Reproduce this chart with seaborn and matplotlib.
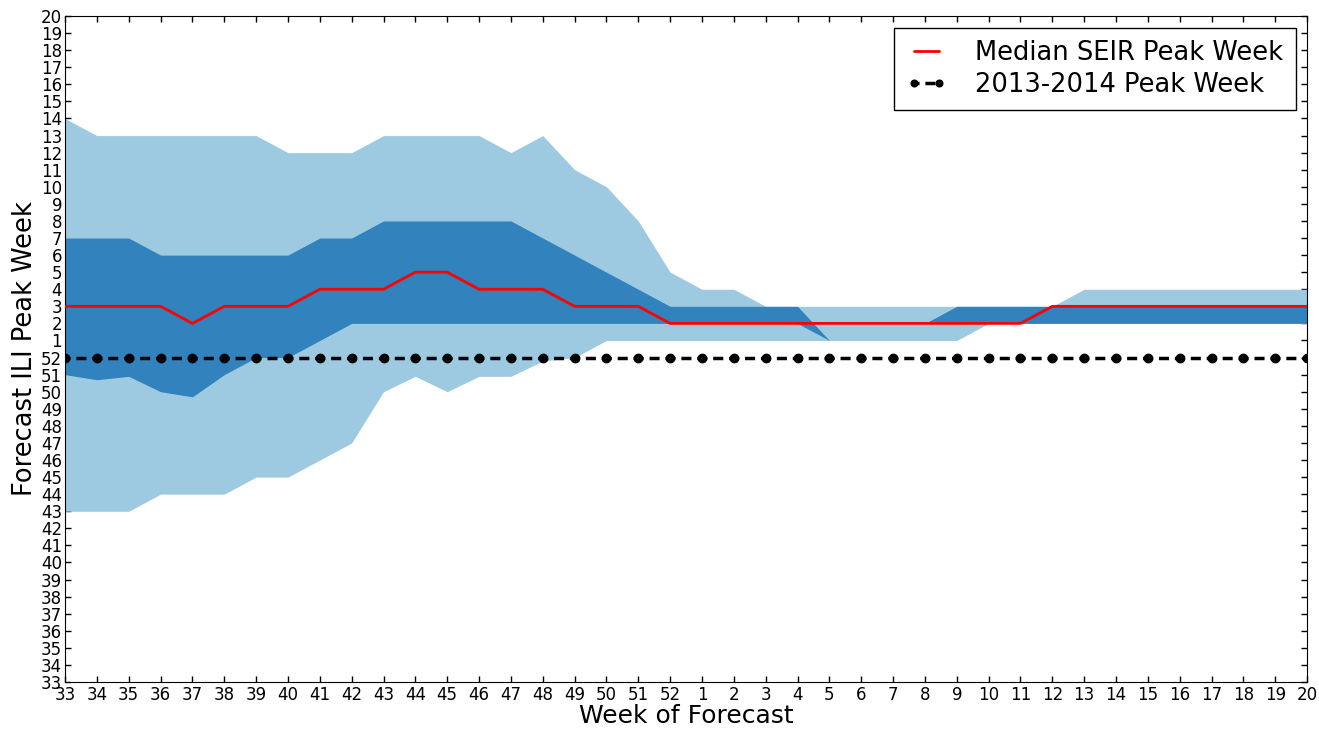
import matplotlib
matplotlib.use("Agg")
import matplotlib.pyplot as plt
import seaborn as sns
import pandas as pd

# Forecast weeks of the 2013-2014 season (week 33 through week 20 of the next year)
weeks = list(range(33, 53)) + list(range(1, 21))

# Median forecast of the peak week
median_peak = [3, 3, 3, 3, 2, 3, 3, 3, 4, 4, 4, 5, 5, 4, 4, 4, 3, 3, 3, 2,
               2, 2, 2, 2, 2, 2, 2, 2, 2, 2, 2, 3, 3, 3, 3, 3, 3, 3, 3, 3]

# Inner interval (dark band)
inner_hi = [7, 7, 7, 6, 6, 6, 6, 6, 7, 7, 8, 8, 8, 8, 8, 7, 6, 5, 4, 3,
            3, 3, 3, 3, 1, 2, 2, 2, 3, 3, 3, 3, 3, 3, 3, 3, 3, 3, 3, 3]
inner_lo = [51, 50.7, 50.9, 50, 49.7, 51, 52, 52, 1, 2, 2, 2, 2, 2, 2, 2, 2, 2, 2, 2,
            2, 2, 2, 2, 1, 2, 2, 2, 2, 2, 2, 2, 2, 2, 2, 2, 2, 2, 2, 2]

# Outer interval (light band)
outer_hi = [14, 13, 13, 13, 13, 13, 13, 12, 12, 12, 13, 13, 13, 13, 12, 13, 11, 10, 8, 5,
            4, 4, 3, 3, 3, 3, 3, 3, 3, 3, 3, 3, 4, 4, 4, 4, 4, 4, 4, 4]
outer_lo = [43, 43, 43, 44, 44, 44, 45, 45, 46, 47, 50, 50.9, 50, 50.9, 50.9, 51.8, 52, 1, 1, 1,
            1, 1, 1, 1, 1, 1, 1, 1, 1, 2, 2, 2, 2, 2, 2, 2, 2, 2, 2, 2]

# Observed peak week of the 2013-2014 season
observed_peak = 52


def season_pos(week):
    """Position of a week number on the season axis (week 33 -> 0, week 20 -> 39)."""
    return week - 33 if week > 20.5 else week + 19


x = list(range(len(weeks)))
df = pd.DataFrame({
    "x": x,
    "median": [season_pos(w) for w in median_peak],
    "inner_hi": [season_pos(w) for w in inner_hi],
    "inner_lo": [season_pos(w) for w in inner_lo],
    "outer_hi": [season_pos(w) for w in outer_hi],
    "outer_lo": [season_pos(w) for w in outer_lo],
    "observed": [season_pos(observed_peak)] * len(weeks),
})

sns.set_style("white", {
    "xtick.direction": "in", "ytick.direction": "in",
    "xtick.top": True, "ytick.right": True,
    "xtick.bottom": True, "ytick.left": True,
    "axes.edgecolor": "black", "axes.linewidth": 1.0,
    "text.color": "black", "axes.labelcolor": "black",
    "xtick.color": "black", "ytick.color": "black",
})
plt.rcParams["font.family"] = ["DejaVu Sans"]

fig = plt.figure(figsize=(13.19, 7.32), dpi=100)
ax = fig.add_axes([0.0493, 0.0683, 0.9417, 0.9098])

light_blue = "#9ecae1"
dark_blue = "#3182bd"

ax.fill_between(df["x"], df["outer_lo"], df["outer_hi"], color=light_blue, lw=0, zorder=1)
ax.fill_between(df["x"], df["inner_lo"], df["inner_hi"], color=dark_blue, lw=0, zorder=2)

sns.lineplot(data=df, x="x", y="median", color="red", lw=2.0, ax=ax,
             label="Median SEIR Peak Week", zorder=4)
sns.lineplot(data=df, x="x", y="observed", color="black", lw=2.5,
             linestyle=(1.45, (2.9, 1.685)),
             marker="o", markersize=6.3, markeredgecolor="black", ax=ax,
             label="2013-2014 Peak Week", zorder=5)

ax.set_xlim(0, len(weeks) - 1)
ax.set_ylim(0, len(weeks) - 1)
ax.set_xticks(x)
ax.set_xticklabels([str(w) for w in weeks], fontsize=12)
ax.set_yticks(x)
ax.set_yticklabels([str(w) for w in weeks], fontsize=12)
ax.tick_params(axis="both", which="major", length=4, width=1, color="black", pad=2)
ax.tick_params(axis="x", which="major", pad=3)

ax.set_xlabel("Week of Forecast", fontsize=18, labelpad=0)
ax.set_ylabel("Forecast ILI Peak Week", fontsize=18.5, labelpad=2)

leg = ax.legend(loc="upper right", fontsize=18.5, numpoints=2, frameon=True,
                fancybox=False, framealpha=1, edgecolor="black",
                handlelength=1.55, handletextpad=1.1, markerscale=0.8,
                borderaxespad=0.45, borderpad=0.5, labelspacing=0.2)
leg.get_frame().set_linewidth(1.0)

for spine in ax.spines.values():
    spine.set_visible(True)
    spine.set_color("black")

fig.savefig("out.png", dpi=100)
